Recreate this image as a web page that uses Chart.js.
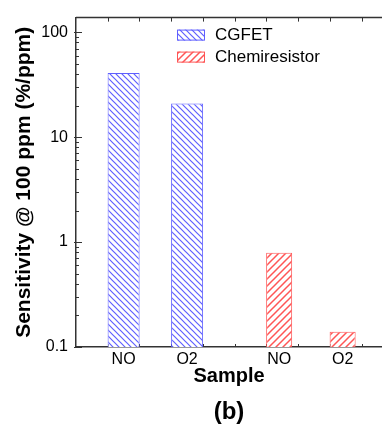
<!DOCTYPE html>
<html>
<head>
<meta charset="utf-8">
<script src="https://cdn.jsdelivr.net/npm/chart.js@4.4.1/dist/chart.umd.min.js"></script>
<style>
  html, body { margin: 0; padding: 0; background: #fff; }
  canvas { display: block; }
</style>
</head>
<body>
<canvas id="chart" width="382" height="426"></canvas>
<script>
// categories and values
const sampleLabels = ['NO', 'O2', 'NO', 'O2'];
const cgfetPos = [1.5, 3.5];
const cgfetValues = [41, 21];
const chemPos = [6.4, 8.4];
const chemValues = [0.79, 0.14];
const seriesNames = ['CGFET', 'Chemiresistor'];
const yDecades = [0.1, 1, 10, 100];
const yDecadeLabels = ['0.1', '1', '10', '100'];

const FONT = "'Liberation Sans', Arial, sans-serif";
const AXIS = '#333';
const BLUE = 'rgb(95,95,255)';
const RED = 'rgb(255,85,85)';

function hatch(color, step, width, dir) {
    const c = document.createElement('canvas');
    c.width = step; c.height = step;
    const g = c.getContext('2d');
    g.fillStyle = '#fff';
    g.fillRect(0, 0, step, step);
    g.strokeStyle = color;
    g.lineWidth = width;
    g.beginPath();
    if (dir === 'back') {
        g.moveTo(-1, -1); g.lineTo(step + 1, step + 1);
        g.moveTo(-1, step - 1); g.lineTo(1, step + 1);
        g.moveTo(step - 1, -1); g.lineTo(step + 1, 1);
    } else {
        g.moveTo(-1, step + 1); g.lineTo(step + 1, -1);
        g.moveTo(-1, 1); g.lineTo(1, -1);
        g.moveTo(step - 1, step + 1); g.lineTo(step + 1, step - 1);
    }
    g.stroke();
    return g.createPattern(c, 'repeat');
}

const blueHatch = hatch(BLUE, 6, 1.2, 'back');
const redHatch = hatch(RED, 7, 1.5, 'fwd');

function toPoints(xs, ys) {
    return xs.map((x, i) => ({ x, y: ys[i] }));
}

// minor log ticks, decoration only
const yTicks = [];
for (let d = 0; d < yDecades.length; d++) {
    if (d === yDecades.length - 1) { yTicks.push(yDecades[d]); break; }
    for (let k = 1; k < 10; k++) yTicks.push(+(yDecades[d] * k).toPrecision(3));
}

const frame = {
    id: 'frame',
    beforeDatasetsDraw(chart) {
        const { ctx, chartArea: a, scales: { x, y } } = chart;
        ctx.save();
        ctx.strokeStyle = AXIS;
        ctx.lineWidth = 1.5;
        ctx.beginPath();
        ctx.moveTo(a.left, a.top); ctx.lineTo(a.right, a.top);
        ctx.stroke();
        ctx.lineWidth = 1;
        ctx.beginPath();
        yTicks.forEach(v => {
            const py = Math.round(y.getPixelForValue(v)) + 0.5;
            const major = yDecades.includes(v);
            ctx.moveTo(a.left - (major ? 2 : 0), py);
            ctx.lineTo(a.left + (major ? 6 : 3), py);
        });
        for (let v = 1; v < x.max; v++) {
            const px = Math.round(x.getPixelForValue(v)) + 0.5;
            ctx.moveTo(px, a.top); ctx.lineTo(px, a.top + 4);
            ctx.moveTo(px, a.bottom); ctx.lineTo(px, a.bottom - 3);
        }
        ctx.stroke();
        ctx.restore();
    },
    afterDraw(chart) {
        const { ctx, chartArea: a } = chart;
        const items = [
            { name: seriesNames[0], fill: blueHatch, stroke: BLUE },
            { name: seriesNames[1], fill: redHatch, stroke: RED }
        ];
        ctx.save();
        ctx.font = '17px ' + FONT;
        ctx.textBaseline = 'middle';
        items.forEach((it, i) => {
            const bx = a.left + 101, by = a.top + 12 + i * 22;
            ctx.fillStyle = it.fill;
            ctx.fillRect(bx, by, 28, 11);
            ctx.strokeStyle = it.stroke;
            ctx.lineWidth = 1;
            ctx.strokeRect(bx + 0.5, by + 0.5, 27, 10);
            ctx.fillStyle = '#000';
            ctx.fillText(it.name, bx + 38, by + 6);
        });
        ctx.restore();
    }
};

new Chart(document.getElementById('chart'), {
    type: 'bar',
    data: {
        datasets: [
            {
                label: seriesNames[0],
                data: toPoints(cgfetPos, cgfetValues),
                backgroundColor: blueHatch,
                hoverBackgroundColor: blueHatch,
                borderColor: BLUE,
                borderWidth: 1,
                grouped: false,
                barPercentage: 1,
                maxBarThickness: 32
            },
            {
                label: seriesNames[1],
                data: toPoints(chemPos, chemValues),
                backgroundColor: redHatch,
                hoverBackgroundColor: redHatch,
                borderColor: RED,
                borderWidth: 1,
                grouped: false,
                barPercentage: 1,
                maxBarThickness: 26
            }
        ]
    },
    options: {
        responsive: false,
        animation: false,
        devicePixelRatio: 1,
        layout: { padding: { top: 14, left: 0, right: 0, bottom: 0 } },
        plugins: {
            legend: { display: false },
            tooltip: { enabled: false },
            title: {
                display: true,
                position: 'bottom',
                fullSize: false,
                text: '(b)',
                color: '#000',
                font: { family: FONT, size: 24, weight: 'bold', lineHeight: 1.1 },
                padding: { top: 8, bottom: 0 }
            }
        },
        scales: {
            x: {
                type: 'linear',
                offset: false,
                min: 0,
                max: 9.64,
                grid: { display: false, drawTicks: false },
                border: { display: true, color: AXIS, width: 1.5 },
                afterBuildTicks: s => { s.ticks = cgfetPos.concat(chemPos).map(v => ({ value: v })); },
                afterFit: s => { s.height = 44.6; },
                ticks: {
                    autoSkip: false,
                    maxRotation: 0,
                    padding: 3,
                    color: '#000',
                    font: { family: FONT, size: 16 },
                    callback: (v, i) => sampleLabels[i]
                },
                title: {
                    display: true,
                    text: 'Sample',
                    color: '#000',
                    font: { family: FONT, size: 20, weight: 'bold' },
                    padding: { top: 0, bottom: 3.6 }
                }
            },
            y: {
                type: 'logarithmic',
                min: 0.1,
                max: 138,
                grid: { display: false, drawTicks: false },
                border: { display: true, color: AXIS, width: 1.5 },
                afterBuildTicks: s => { s.ticks = yTicks.map(v => ({ value: v, major: yDecades.includes(v) })); },
                afterFit: s => { s.width = 76; },
                ticks: {
                    autoSkip: false,
                    padding: 8,
                    color: '#000',
                    font: { family: FONT, size: 16 },
                    callback: v => {
                        const i = yDecades.indexOf(v);
                        return i >= 0 ? yDecadeLabels[i] : '';
                    }
                },
                title: {
                    display: true,
                    text: 'Sensitivity @ 100 ppm (%/ppm)',
                    color: '#000',
                    font: { family: FONT, size: 21, weight: 'bold' },
                    padding: { top: 12, bottom: 0 }
                }
            }
        }
    },
    plugins: [frame]
});
</script>
</body>
</html>
